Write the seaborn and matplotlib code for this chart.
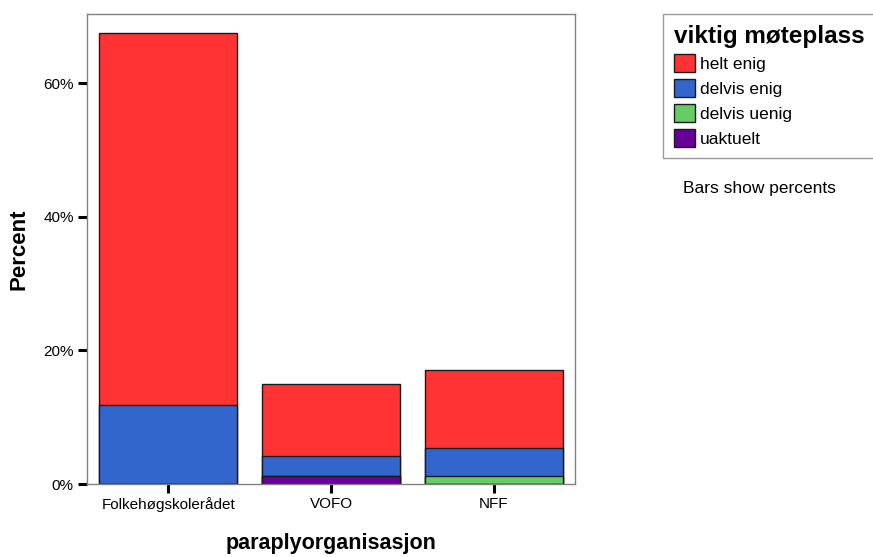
import pandas as pd
import seaborn as sns
import matplotlib.pyplot as plt
from matplotlib.patches import Patch

sns.set_style('white')
plt.rcParams['font.family'] = ['Liberation Sans', 'DejaVu Sans']
plt.rcParams['text.color'] = 'black'
plt.rcParams['axes.labelcolor'] = 'black'
plt.rcParams['xtick.color'] = 'black'
plt.rcParams['ytick.color'] = 'black'

# percent of all respondents
categories = ['Folkehøgskolerådet', 'VOFO', 'NFF']
helt_enig = [55.7, 10.75, 11.75]
delvis_enig = [11.9, 3.1, 4.25]
delvis_uenig = [0.0, 0.0, 1.15]
uaktuelt = [0.0, 1.15, 0.0]

levels = ['helt enig', 'delvis enig', 'delvis uenig', 'uaktuelt']
colors = {'helt enig': '#ff3333', 'delvis enig': '#3366cc',
          'delvis uenig': '#66cc66', 'uaktuelt': '#660099'}

df = pd.DataFrame({'org': categories, 'helt enig': helt_enig,
                   'delvis enig': delvis_enig, 'delvis uenig': delvis_uenig,
                   'uaktuelt': uaktuelt})

fig = plt.figure(figsize=(8.73, 5.57), dpi=100)
ax = fig.add_axes([87 / 873, 1 - 484 / 557, 488 / 873, 470 / 557])

# stacked: draw cumulative totals from top segment down
stack = ['uaktuelt', 'delvis uenig', 'delvis enig', 'helt enig']
for i in range(len(stack) - 1, -1, -1):
    cum = df[stack[:i + 1]].sum(axis=1)
    sns.barplot(x=df['org'], y=cum, color=colors[stack[i]], edgecolor='#1a1a1a',
                linewidth=1, width=0.85, saturation=1, ax=ax, order=categories)

ax.set_xlim(-0.5, 2.5)
ax.set_ylim(0, 70.4)
ax.set_yticks([0, 20, 40, 60])
ax.set_yticklabels(['0%', '20%', '40%', '60%'])
ax.tick_params(axis='both', direction='out', length=6.5, width=2.2, color='black',
               labelsize=11, pad=3, left=True, bottom=True)
for s in ax.spines.values():
    s.set_color('#808080')
    s.set_linewidth(1)

ax.set_xlabel('paraplyorganisasjon', fontsize=15.5, fontweight='bold', labelpad=15)
ax.set_ylabel('Percent', fontsize=16, fontweight='bold', labelpad=10)

handles = [Patch(facecolor=colors[l], edgecolor='#1a1a1a', linewidth=1) for l in levels]
leg = fig.legend(handles, levels, title='viktig møteplass', loc='upper left',
                 bbox_to_anchor=(663 / 873, 1 - 14 / 557), fontsize=12.5,
                 title_fontproperties={'weight': 'bold', 'size': 17.5},
                 frameon=True, fancybox=False, edgecolor='#808080',
                 handlelength=1.2, handleheight=1.2, handletextpad=0.3,
                 labelspacing=0.42, borderpad=0.65, borderaxespad=0,
                 alignment='left')
leg.get_frame().set_linewidth(1)
leg._legend_box.sep = 4  # tighter gap under the title

fig.text(683 / 873, 1 - 188 / 557, 'Bars show percents', fontsize=12.5, va='center')

fig.savefig('out.png', dpi=100)
